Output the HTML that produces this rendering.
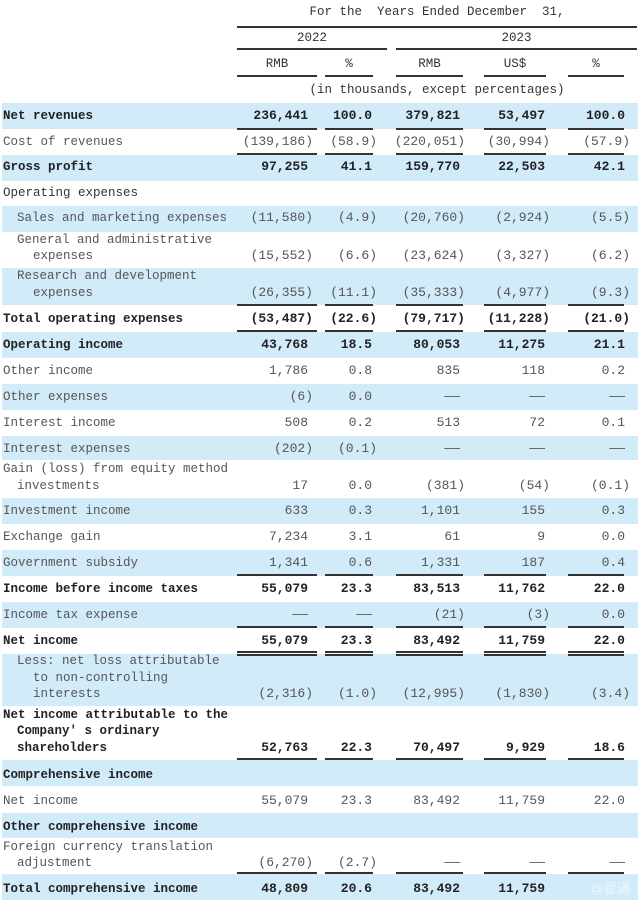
<!DOCTYPE html>
<html><head><meta charset="utf-8"><style>
body{margin:0;width:640px;height:914px;background:#fff;position:relative;overflow:hidden;font-family:"Liberation Mono","Noto Serif CJK SC",monospace;color:#555}
.r{position:absolute;left:2px;width:636px;background:#d2ebf9}
.t{position:absolute;line-height:16px;white-space:pre;font-size:12.5px}
.n{position:absolute;line-height:16px;white-space:pre;font-size:13px;text-align:right}
.b{font-weight:bold;color:#222}
.c{position:absolute;line-height:16px;white-space:pre;font-size:12.5px;text-align:center;color:#333}
.l{position:absolute;height:1.5px;background:#333}
.u1{left:237px;width:80px}.u2{left:325px;width:48px}.u3{left:396px;width:67px}.u4{left:484px;width:62px}.u5{left:568px;width:56px}
</style></head><body>
<div class="c" style="left:237px;width:400px;top:4px">For the  Years Ended December  31,</div>
<div class="l" style="left:237px;width:400px;top:26px"></div>
<div class="c" style="left:237px;width:150px;top:30px">2022</div>
<div class="c" style="left:396px;width:241px;top:30px">2023</div>
<div class="l" style="left:237px;width:150px;top:48px"></div>
<div class="l" style="left:396px;width:241px;top:48px"></div>
<div class="c" style="left:237px;width:80px;top:56px">RMB</div>
<div class="c" style="left:325px;width:48px;top:56px">%</div>
<div class="c" style="left:396px;width:67px;top:56px">RMB</div>
<div class="c" style="left:484px;width:62px;top:56px">US$</div>
<div class="c" style="left:568px;width:56px;top:56px">%</div>
<div class="l u1" style="top:75px"></div><div class="l u2" style="top:75px"></div><div class="l u3" style="top:75px"></div><div class="l u4" style="top:75px"></div><div class="l u5" style="top:75px"></div>
<div class="c" style="left:237px;width:400px;top:82px">(in thousands, except percentages)</div>

<div class="r" style="top:103px;height:26px"></div>
<div class="r" style="top:155px;height:26px"></div>
<div class="r" style="top:206px;height:26px"></div>
<div class="r" style="top:268px;height:37px"></div>
<div class="r" style="top:332px;height:26px"></div>
<div class="r" style="top:384px;height:26px"></div>
<div class="r" style="top:436px;height:24px"></div>
<div class="r" style="top:498px;height:26px"></div>
<div class="r" style="top:550px;height:26px"></div>
<div class="r" style="top:602px;height:26px"></div>
<div class="r" style="top:654px;height:52px"></div>
<div class="r" style="top:760px;height:26px"></div>
<div class="r" style="top:813px;height:25px"></div>
<div class="r" style="top:874px;height:26px"></div>

<div class="t b" style="left:3px;top:108px">Net revenues</div>
<div class="t" style="left:3px;top:134px">Cost of revenues</div>
<div class="t b" style="left:3px;top:159px">Gross profit</div>
<div class="t" style="left:3px;top:185px;color:#333">Operating expenses</div>
<div class="t" style="left:17px;top:210px">Sales and marketing expenses</div>
<div class="t" style="left:17px;top:232px">General and administrative</div>
<div class="t" style="left:33px;top:248px">expenses</div>
<div class="t" style="left:17px;top:268px">Research and development</div>
<div class="t" style="left:33px;top:285px">expenses</div>
<div class="t b" style="left:3px;top:311px">Total operating expenses</div>
<div class="t b" style="left:3px;top:337px">Operating income</div>
<div class="t" style="left:3px;top:363px">Other income</div>
<div class="t" style="left:3px;top:389px">Other expenses</div>
<div class="t" style="left:3px;top:415px">Interest income</div>
<div class="t" style="left:3px;top:441px">Interest expenses</div>
<div class="t" style="left:3px;top:461px">Gain (loss) from equity method</div>
<div class="t" style="left:17px;top:478px">investments</div>
<div class="t" style="left:3px;top:503px">Investment income</div>
<div class="t" style="left:3px;top:529px">Exchange gain</div>
<div class="t" style="left:3px;top:555px">Government subsidy</div>
<div class="t b" style="left:3px;top:581px">Income before income taxes</div>
<div class="t" style="left:3px;top:607px">Income tax expense</div>
<div class="t b" style="left:3px;top:633px">Net income</div>
<div class="t" style="left:17px;top:653px">Less: net loss attributable</div>
<div class="t" style="left:33px;top:670px">to non-controlling</div>
<div class="t" style="left:33px;top:686px">interests</div>
<div class="t b" style="left:3px;top:707px">Net income attributable to the</div>
<div class="t b" style="left:17px;top:723px">Company' s ordinary</div>
<div class="t b" style="left:17px;top:740px">shareholders</div>
<div class="t b" style="left:3px;top:767px">Comprehensive income</div>
<div class="t" style="left:3px;top:793px">Net income</div>
<div class="t b" style="left:3px;top:819px">Other comprehensive income</div>
<div class="t" style="left:3px;top:839px">Foreign currency translation</div>
<div class="t" style="left:17px;top:855px">adjustment</div>
<div class="t b" style="left:3px;top:881px">Total comprehensive income</div>

<div class="n b" style="right:332px;top:108px">236,441</div><div class="n b" style="right:268px;top:108px">100.0</div><div class="n b" style="right:180px;top:108px">379,821</div><div class="n b" style="right:95px;top:108px">53,497</div><div class="n b" style="right:15px;top:108px">100.0</div>
<div class="n" style="right:327px;top:134px">(139,186)</div><div class="n" style="right:263px;top:134px">(58.9)</div><div class="n" style="right:175px;top:134px">(220,051)</div><div class="n" style="right:90px;top:134px">(30,994)</div><div class="n" style="right:10px;top:134px">(57.9)</div>
<div class="n b" style="right:332px;top:159px">97,255</div><div class="n b" style="right:268px;top:159px">41.1</div><div class="n b" style="right:180px;top:159px">159,770</div><div class="n b" style="right:95px;top:159px">22,503</div><div class="n b" style="right:15px;top:159px">42.1</div>
<div class="n" style="right:327px;top:210px">(11,580)</div><div class="n" style="right:263px;top:210px">(4.9)</div><div class="n" style="right:175px;top:210px">(20,760)</div><div class="n" style="right:90px;top:210px">(2,924)</div><div class="n" style="right:10px;top:210px">(5.5)</div>
<div class="n" style="right:327px;top:248px">(15,552)</div><div class="n" style="right:263px;top:248px">(6.6)</div><div class="n" style="right:175px;top:248px">(23,624)</div><div class="n" style="right:90px;top:248px">(3,327)</div><div class="n" style="right:10px;top:248px">(6.2)</div>
<div class="n" style="right:327px;top:285px">(26,355)</div><div class="n" style="right:263px;top:285px">(11.1)</div><div class="n" style="right:175px;top:285px">(35,333)</div><div class="n" style="right:90px;top:285px">(4,977)</div><div class="n" style="right:10px;top:285px">(9.3)</div>
<div class="n b" style="right:327px;top:311px">(53,487)</div><div class="n b" style="right:263px;top:311px">(22.6)</div><div class="n b" style="right:175px;top:311px">(79,717)</div><div class="n b" style="right:90px;top:311px">(11,228)</div><div class="n b" style="right:10px;top:311px">(21.0)</div>
<div class="n b" style="right:332px;top:337px">43,768</div><div class="n b" style="right:268px;top:337px">18.5</div><div class="n b" style="right:180px;top:337px">80,053</div><div class="n b" style="right:95px;top:337px">11,275</div><div class="n b" style="right:15px;top:337px">21.1</div>
<div class="n" style="right:332px;top:363px">1,786</div><div class="n" style="right:268px;top:363px">0.8</div><div class="n" style="right:180px;top:363px">835</div><div class="n" style="right:95px;top:363px">118</div><div class="n" style="right:15px;top:363px">0.2</div>
<div class="n" style="right:327px;top:389px">(6)</div><div class="n" style="right:268px;top:389px">0.0</div><div class="n" style="right:180px;top:389px">——</div><div class="n" style="right:95px;top:389px">——</div><div class="n" style="right:15px;top:389px">——</div>
<div class="n" style="right:332px;top:415px">508</div><div class="n" style="right:268px;top:415px">0.2</div><div class="n" style="right:180px;top:415px">513</div><div class="n" style="right:95px;top:415px">72</div><div class="n" style="right:15px;top:415px">0.1</div>
<div class="n" style="right:327px;top:441px">(202)</div><div class="n" style="right:263px;top:441px">(0.1)</div><div class="n" style="right:180px;top:441px">——</div><div class="n" style="right:95px;top:441px">——</div><div class="n" style="right:15px;top:441px">——</div>
<div class="n" style="right:332px;top:478px">17</div><div class="n" style="right:268px;top:478px">0.0</div><div class="n" style="right:175px;top:478px">(381)</div><div class="n" style="right:90px;top:478px">(54)</div><div class="n" style="right:10px;top:478px">(0.1)</div>
<div class="n" style="right:332px;top:503px">633</div><div class="n" style="right:268px;top:503px">0.3</div><div class="n" style="right:180px;top:503px">1,101</div><div class="n" style="right:95px;top:503px">155</div><div class="n" style="right:15px;top:503px">0.3</div>
<div class="n" style="right:332px;top:529px">7,234</div><div class="n" style="right:268px;top:529px">3.1</div><div class="n" style="right:180px;top:529px">61</div><div class="n" style="right:95px;top:529px">9</div><div class="n" style="right:15px;top:529px">0.0</div>
<div class="n" style="right:332px;top:555px">1,341</div><div class="n" style="right:268px;top:555px">0.6</div><div class="n" style="right:180px;top:555px">1,331</div><div class="n" style="right:95px;top:555px">187</div><div class="n" style="right:15px;top:555px">0.4</div>
<div class="n b" style="right:332px;top:581px">55,079</div><div class="n b" style="right:268px;top:581px">23.3</div><div class="n b" style="right:180px;top:581px">83,513</div><div class="n b" style="right:95px;top:581px">11,762</div><div class="n b" style="right:15px;top:581px">22.0</div>
<div class="n" style="right:332px;top:607px">——</div><div class="n" style="right:268px;top:607px">——</div><div class="n" style="right:175px;top:607px">(21)</div><div class="n" style="right:90px;top:607px">(3)</div><div class="n" style="right:15px;top:607px">0.0</div>
<div class="n b" style="right:332px;top:633px">55,079</div><div class="n b" style="right:268px;top:633px">23.3</div><div class="n b" style="right:180px;top:633px">83,492</div><div class="n b" style="right:95px;top:633px">11,759</div><div class="n b" style="right:15px;top:633px">22.0</div>
<div class="n" style="right:327px;top:686px">(2,316)</div><div class="n" style="right:263px;top:686px">(1.0)</div><div class="n" style="right:175px;top:686px">(12,995)</div><div class="n" style="right:90px;top:686px">(1,830)</div><div class="n" style="right:10px;top:686px">(3.4)</div>
<div class="n b" style="right:332px;top:740px">52,763</div><div class="n b" style="right:268px;top:740px">22.3</div><div class="n b" style="right:180px;top:740px">70,497</div><div class="n b" style="right:95px;top:740px">9,929</div><div class="n b" style="right:15px;top:740px">18.6</div>
<div class="n" style="right:332px;top:793px">55,079</div><div class="n" style="right:268px;top:793px">23.3</div><div class="n" style="right:180px;top:793px">83,492</div><div class="n" style="right:95px;top:793px">11,759</div><div class="n" style="right:15px;top:793px">22.0</div>
<div class="n" style="right:327px;top:855px">(6,270)</div><div class="n" style="right:263px;top:855px">(2.7)</div><div class="n" style="right:180px;top:855px">——</div><div class="n" style="right:95px;top:855px">——</div><div class="n" style="right:15px;top:855px">——</div>
<div class="n b" style="right:332px;top:881px">48,809</div><div class="n b" style="right:268px;top:881px">20.6</div><div class="n b" style="right:180px;top:881px">83,492</div><div class="n b" style="right:95px;top:881px">11,759</div>
<div class="n" style="right:10px;top:881px;color:#eef6fb;font-family:'Liberation Sans','Noto Sans CJK SC',sans-serif;font-size:13px">@霍通</div>

<div class="l u1" style="top:128px"></div><div class="l u2" style="top:128px"></div><div class="l u3" style="top:128px"></div><div class="l u4" style="top:128px"></div><div class="l u5" style="top:128px"></div>
<div class="l u1" style="top:153px"></div><div class="l u2" style="top:153px"></div><div class="l u3" style="top:153px"></div><div class="l u4" style="top:153px"></div><div class="l u5" style="top:153px"></div>
<div class="l u1" style="top:304px"></div><div class="l u2" style="top:304px"></div><div class="l u3" style="top:304px"></div><div class="l u4" style="top:304px"></div><div class="l u5" style="top:304px"></div>
<div class="l u1" style="top:330px"></div><div class="l u2" style="top:330px"></div><div class="l u3" style="top:330px"></div><div class="l u4" style="top:330px"></div><div class="l u5" style="top:330px"></div>
<div class="l u1" style="top:574px"></div><div class="l u2" style="top:574px"></div><div class="l u3" style="top:574px"></div><div class="l u4" style="top:574px"></div><div class="l u5" style="top:574px"></div>
<div class="l u1" style="top:626px"></div><div class="l u2" style="top:626px"></div><div class="l u3" style="top:626px"></div><div class="l u4" style="top:626px"></div><div class="l u5" style="top:626px"></div>
<div class="l u1" style="top:651px"></div><div class="l u2" style="top:651px"></div><div class="l u3" style="top:651px"></div><div class="l u4" style="top:651px"></div><div class="l u5" style="top:651px"></div>
<div class="l u1" style="top:654px"></div><div class="l u2" style="top:654px"></div><div class="l u3" style="top:654px"></div><div class="l u4" style="top:654px"></div><div class="l u5" style="top:654px"></div>
<div class="l u1" style="top:758px"></div><div class="l u2" style="top:758px"></div><div class="l u3" style="top:758px"></div><div class="l u4" style="top:758px"></div><div class="l u5" style="top:758px"></div>
<div class="l u1" style="top:872px"></div><div class="l u2" style="top:872px"></div><div class="l u3" style="top:872px"></div><div class="l u4" style="top:872px"></div><div class="l u5" style="top:872px"></div>
</body></html>
